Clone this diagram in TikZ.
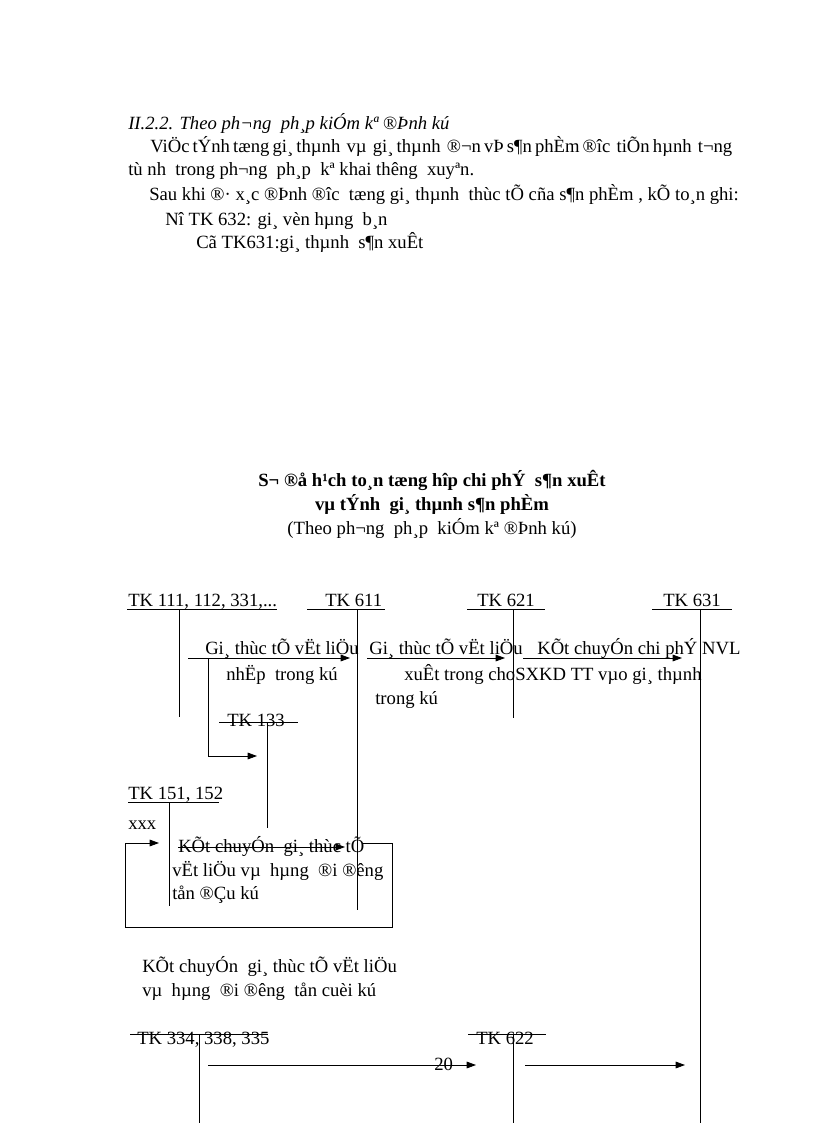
\documentclass[tikz,border=0pt]{standalone}
\usepackage{fontspec}
\setmainfont{Liberation Serif}
\usetikzlibrary{arrows.meta}
\tikzset{
  txt/.style={inner sep=0pt, anchor=base west, font=\fontsize{14}{16}\selectfont},
  ttl/.style={inner sep=0pt, anchor=base, font=\fontsize{14}{16}\selectfont\bfseries},
  ln/.style={line width=0.6pt},
  arr/.style={line width=0.6pt, -{Triangle[length=7pt,width=5pt]}}
}
\begin{document}
\begin{tikzpicture}[x=0.75pt,y=-0.75pt]
\useasboundingbox (0,0) rectangle (816,1123);
% body text
\node[txt, font=\fontsize{14}{16}\selectfont\itshape] (h1) at (128,130) {II.2.2. Theo ph¬ng\ \ ph¸p kiÓm kª ®Þnh kú};
\node[txt] (p1) at (150,153) {\makebox[436.5pt][s]{ViÖc tÝnh tæng gi¸ thµnh\ \ vµ\ \ gi¸ thµnh\ \ ®¬n vÞ s¶n phÈm ®îc\ \ tiÕn hµnh\ \ t¬ng}};
\node[txt] (p2) at (128,176) {tù nh\ \ trong ph¬ng\ \ ph¸p\ \ kª khai thêng\ \ xuyªn.};
\node[txt] (p3) at (149,201) {Sau khi ®· x¸c ®Þnh ®îc\ \ tæng gi¸ thµnh\ \ thùc tÕ cña s¶n phÈm , kÕ to¸n ghi:};
\node[txt] (p4) at (165,225) {Nî TK 632: gi¸ vèn hµng\ \ b¸n};
\node[txt] (p5) at (196,248) {Cã TK631:gi¸ thµnh\ \ s¶n xuÊt};
% title
\node[ttl] (t1) at (432,486) {S¬ ®å h¹ch to¸n tæng hîp chi phÝ\ \ s¶n xuÊt};
\node[ttl] (t2) at (432,510) {vµ tÝnh\ \ gi¸ thµnh s¶n phÈm};
\node[ttl, font=\fontsize{14}{16}\selectfont] (t3) at (432,534) {(Theo ph¬ng\ \ ph¸p\ \ kiÓm kª ®Þnh kú)};
% T accounts
\node[txt] (a111) at (128,606) {TK 111, 112, 331,...};
\coordinate (a111l) at (127,609); \coordinate (a111r) at (277,609);
\coordinate (a111t) at (179,609); \coordinate (a111b) at (179,717);
\node[txt] (a611) at (325,606) {TK 611};
\coordinate (a611l) at (307,609); \coordinate (a611r) at (385,609);
\coordinate (a611t) at (357,609); \coordinate (a611b) at (357,910);
\node[txt] (a621) at (477,606) {TK 621};
\coordinate (a621l) at (467,609); \coordinate (a621r) at (545,609);
\coordinate (a621t) at (513,609); \coordinate (a621b) at (513,718);
\node[txt] (a631) at (663,606) {TK 631};
\coordinate (a631l) at (652,609); \coordinate (a631r) at (732,609);
\coordinate (a631t) at (700,609); \coordinate (a631b) at (700,1123);
\draw[ln] (a111l) -- (a111r) (a111t) -- (a111b);
\draw[ln] (a611l) -- (a611r) (a611t) -- (a611b);
\draw[ln] (a621l) -- (a621r) (a621t) -- (a621b);
\draw[ln] (a631l) -- (a631r) (a631t) -- (a631b);
% arrows row 1
\coordinate (r1a) at (188,658); \coordinate (r1b) at (350,658);
\coordinate (r2a) at (367,658); \coordinate (r2b) at (505,658);
\coordinate (r3a) at (523,658); \coordinate (r3b) at (682,658);
\draw[arr] (r1a) -- (r1b);
\draw[arr] (r2a) -- (r2b);
\draw[arr] (r3a) -- (r3b);
\node[txt] (l1a) at (205,654) {Gi¸ thùc tÕ vËt liÖu};
\node[txt] (l1b) at (226,680) {nhËp\ \ trong kú};
\node[txt] (l2a) at (369,654) {Gi¸ thùc tÕ vËt liÖu};
\node[txt] (l2b) at (404,680) {xuÊt trong cho};
\node[txt] (l2c) at (375,704) {trong kú};
\node[txt] (l3a) at (537,654) {KÕt chuyÓn chi phÝ NVL};
\node[txt] (l3b) at (515,680) {SXKD\ TT vµo gi¸ thµnh};
% TK 133
\node[txt] (a133) at (227,726) {TK 133};
\coordinate (a133l) at (219,722); \coordinate (a133r) at (298,722);
\coordinate (a133t) at (267,722); \coordinate (a133b) at (267,828);
\draw[ln] (a133l) -- (a133r) (a133t) -- (a133b);
\coordinate (br1) at (208,658); \coordinate (br2) at (208,756); \coordinate (br3) at (257,756);
\draw[arr] (br1) -- (br2) -- (br3);
% TK 151, 152
\node[txt] (a151) at (128,799) {TK 151, 152};
\coordinate (a151l) at (128,802); \coordinate (a151r) at (219,802);
\coordinate (a151t) at (169,802); \coordinate (a151b) at (169,906);
\draw[ln] (a151l) -- (a151r) (a151t) -- (a151b);
\node[txt] (xxx) at (128,829) {xxx};
\node[txt] (k1) at (178,852) {KÕt chuyÓn\ \ gi¸ thùc tÕ};
\node[txt] (k2) at (172,876) {vËt liÖu vµ\ \ hµng\ \ ®i ®êng};
\node[txt] (k3) at (172,899) {tån ®Çu kú};
\coordinate (s1) at (178,847); \coordinate (s2) at (345,847);
\draw[arr] (s1) -- (s2);
\coordinate (lp1) at (363,843); \coordinate (lp2) at (392,843); \coordinate (lp3) at (392,927);
\coordinate (lp4) at (125,927); \coordinate (lp5) at (125,843); \coordinate (lp6) at (159,843);
\draw[arr] (lp1) -- (lp2) -- (lp3) -- (lp4) -- (lp5) -- (lp6);
\node[txt] (k4) at (142,972) {KÕt chuyÓn\ \ gi¸ thùc tÕ vËt liÖu};
\node[txt] (k5) at (142,996) {vµ\ \ hµng\ \ ®i ®êng\ \ tån cuèi kú};
% bottom
\node[txt] (a334) at (137,1044) {TK 334, 338, 335};
\coordinate (a334l) at (130,1034); \coordinate (a334r) at (268,1034);
\coordinate (a334t) at (199,1034); \coordinate (a334b) at (199,1123);
\draw[ln] (a334l) -- (a334r) (a334t) -- (a334b);
\node[txt] (a622) at (476,1044) {TK 622};
\coordinate (a622l) at (468,1034); \coordinate (a622r) at (546,1034);
\coordinate (a622t) at (513,1034); \coordinate (a622b) at (513,1123);
\draw[ln] (a622l) -- (a622r) (a622t) -- (a622b);
\coordinate (b1a) at (208,1065); \coordinate (b1b) at (476,1065);
\coordinate (b2a) at (525,1065); \coordinate (b2b) at (685,1065);
\draw[arr] (b1a) -- (b1b);
\draw[arr] (b2a) -- (b2b);
\node[txt] (pg) at (434,1070) {20};
\end{tikzpicture}
\end{document}
